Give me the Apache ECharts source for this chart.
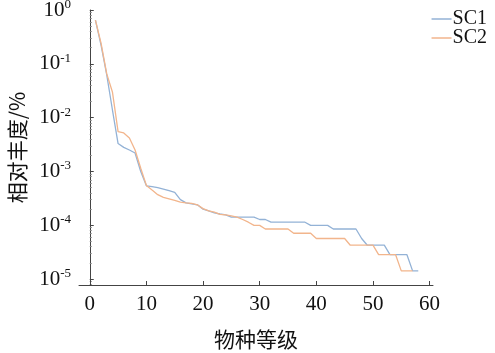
<!DOCTYPE html>
<html>
<head>
<meta charset="utf-8">
<style>
  html, body { margin: 0; padding: 0; background: #fff; }
  #chart { width: 495px; height: 353px; }
</style>
<script src="https://cdn.jsdelivr.net/npm/echarts@6/dist/echarts.min.js"></script>
</head>
<body>
<div id="chart"></div>
<script>
  // 物种等级 (rank) 1..N, 相对丰度 on log scale
  const seriesNames = ['SC1', 'SC2'];
  const xTicks = [0, 10, 20, 30, 40, 50, 60];

  const sc1 = [
    0.65, 0.22, 0.062, 0.014, 3.3e-3, 2.8e-3, 2.5e-3, 2.2e-3, 1.0e-3, 5.4e-4,
    5.2e-4, 5.0e-4, 4.7e-4, 4.4e-4, 4.1e-4, 3.0e-4, 2.6e-4, 2.5e-4, 2.4e-4, 1.99e-4,
    1.85e-4, 1.70e-4, 1.62e-4, 1.56e-4, 1.42e-4, 1.42e-4, 1.42e-4, 1.42e-4, 1.42e-4, 1.28e-4,
    1.28e-4, 1.14e-4, 1.14e-4, 1.14e-4, 1.14e-4, 1.14e-4, 1.14e-4, 1.14e-4, 9.94e-5, 9.94e-5,
    9.94e-5, 9.94e-5, 8.52e-5, 8.52e-5, 8.52e-5, 8.52e-5, 8.52e-5, 5.68e-5, 4.26e-5, 4.26e-5,
    4.26e-5, 4.26e-5, 2.84e-5, 2.84e-5, 2.84e-5, 2.84e-5, 1.42e-5, 1.42e-5,
  ];
  const sc2 = [
    0.65, 0.24, 0.065, 0.030, 5.5e-3, 5.2e-3, 4.2e-3, 2.5e-3, 1.15e-3, 5.5e-4,
    4.5e-4, 3.7e-4, 3.3e-4, 3.1e-4, 2.9e-4, 2.7e-4, 2.6e-4, 2.55e-4, 2.4e-4, 2.04e-4,
    1.85e-4, 1.76e-4, 1.6e-4, 1.56e-4, 1.5e-4, 1.42e-4, 1.28e-4, 1.14e-4, 9.94e-5, 9.94e-5,
    8.52e-5, 8.52e-5, 8.52e-5, 8.52e-5, 8.52e-5, 7.1e-5, 7.1e-5, 7.1e-5, 7.1e-5, 5.68e-5,
    5.68e-5, 5.68e-5, 5.68e-5, 5.68e-5, 5.68e-5, 4.26e-5, 4.26e-5, 4.26e-5, 4.26e-5, 4.26e-5,
    2.84e-5, 2.84e-5, 2.84e-5, 2.84e-5, 1.42e-5, 1.42e-5, 1.42e-5,
  ];

  const colors = ['#93b2d6', '#f2b58c'];
  const serif = '"Liberation Serif", "DejaVu Serif", serif';
  const cjk = '"Noto Sans CJK SC", sans-serif';
  const axisColor = '#444';

  const toPairs = (arr) => arr.map((v, i) => [i + 1, v]);

  const chart = echarts.init(document.getElementById('chart'));
  chart.setOption({
    animation: false,
    color: colors,
    grid: { left: 79, right: 62, top: 10, bottom: 68, containLabel: false, outerBoundsMode: 'none' },
    legend: {
      orient: 'vertical',
      right: 3,
      top: 4,
      itemGap: -1,
      itemWidth: 20,
      itemHeight: 1.5,
      icon: 'rect',
      data: seriesNames,
      textStyle: { fontFamily: serif, fontSize: 20, color: '#111', padding: [0, 0, 0, -4] },
    },
    xAxis: {
      type: 'value',
      min: -1.9,
      max: 60.6,
      name: '物种等级',
      nameLocation: 'middle',
      nameGap: 44,
      nameTextStyle: { fontFamily: cjk, fontSize: 21, color: '#111' },
      axisLine: { lineStyle: { color: axisColor, width: 1 } },
      axisTick: { inside: true, length: 4, customValues: xTicks, lineStyle: { color: axisColor } },
      axisLabel: { customValues: xTicks, fontFamily: serif, fontSize: 21, color: '#111', margin: 9 },
      splitLine: { show: false },
    },
    yAxis: {
      type: 'log',
      logBase: 10,
      min: Math.pow(10, -5.11),
      max: 1,
      name: '相对丰度/%',
      nameLocation: 'middle',
      nameGap: 51,
      nameTextStyle: { fontFamily: cjk, fontSize: 21, color: '#111' },
      axisLine: { show: true, lineStyle: { color: axisColor, width: 1 } },
      axisTick: { inside: true, length: 4, lineStyle: { color: axisColor } },
      minorTick: { show: true, splitNumber: 9, length: 2, lineStyle: { color: '#888' } },
      splitLine: { show: false },
      axisLabel: {
        margin: 8,
        formatter: function (v) {
          const lg = Math.log10(v);
          const e = Math.round(lg);
          if (Math.abs(lg - e) > 0.01) return '';
          return '{b|10}{s|' + e + '}';
        },
        rich: {
          b: { fontFamily: serif, fontSize: 21, color: '#111', lineHeight: 24 },
          s: { fontFamily: serif, fontSize: 13, color: '#111', verticalAlign: 'top', lineHeight: 24 },
        },
      },
    },
    series: [
      {
        name: seriesNames[0],
        type: 'line',
        data: toPairs(sc1),
        showSymbol: false,
        symbol: 'none',
        lineStyle: { width: 1.3, color: colors[0] },
        itemStyle: { color: colors[0] },
      },
      {
        name: seriesNames[1],
        type: 'line',
        data: toPairs(sc2),
        showSymbol: false,
        symbol: 'none',
        lineStyle: { width: 1.3, color: colors[1] },
        itemStyle: { color: colors[1] },
      },
    ],
  });
</script>
</body>
</html>
